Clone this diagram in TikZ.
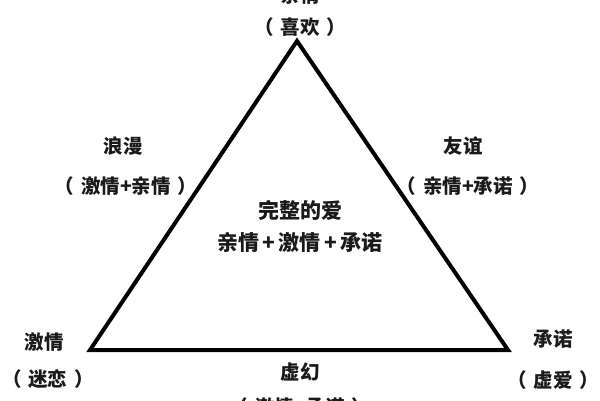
\documentclass[tikz,border=0pt]{standalone}
\usepackage{fontspec}
\newfontfamily\cjk{Noto Sans CJK SC}
\usepackage{xcolor}
\usepackage{tikz}
\usetikzlibrary{positioning}
\definecolor{ink}{HTML}{1A1A1A}
\newcommand{\inparen}[1]{（\hspace{.35em}#1\hspace{.35em}）}

\begin{document}
\begin{tikzpicture}[
  x=1pt,y=1pt,
  node distance=20pt,
  every node/.style={font=\cjk\bfseries\fontsize{19.5}{19.5}\selectfont,text=ink,inner sep=0pt,align=center},
  core/.style={font=\cjk\bfseries\fontsize{21}{21}\selectfont},
  edge/.style={draw=black,line width=4pt,line join=miter}
]
\useasboundingbox (0,0) rectangle (600,400);
\coordinate (top) at (297,359);
\coordinate (left) at (90,50);
\coordinate (right) at (508,50);
\draw[edge] (top) -- (left) -- (right) -- cycle;
% vertices
\node (like) at (300,405) {亲情};
\node[below=13pt of like] (likeSub) {\inparen{喜欢}};
\node (passion) at (44,58) {激情};
\node[below=18pt of passion,xshift=4pt] (passionSub) {\inparen{迷恋}};
\node (commit) at (553,61) {承诺};
\node[below=22pt of commit] (commitSub) {\inparen{虚爱}};
% sides
\node (roman) at (123,254) {浪漫};
\node[below=21pt of roman,xshift=3pt] (romanSub) {\inparen{激情+亲情}};
\node (friend) at (463,254) {友谊};
\node[below=21pt of friend,xshift=5pt] (friendSub) {\inparen{亲情+承诺}};
\node (empty) at (300,28) {虚幻};
\node[below=16pt of empty] (emptySub) {\inparen{激情+承诺}};
% centre
\node[core] (whole) at (300,190) {完整的爱};
\node[core,below=12pt of whole] (wholeSub) {亲情\,+\,激情\,+\,承诺};
\end{tikzpicture}
\end{document}
